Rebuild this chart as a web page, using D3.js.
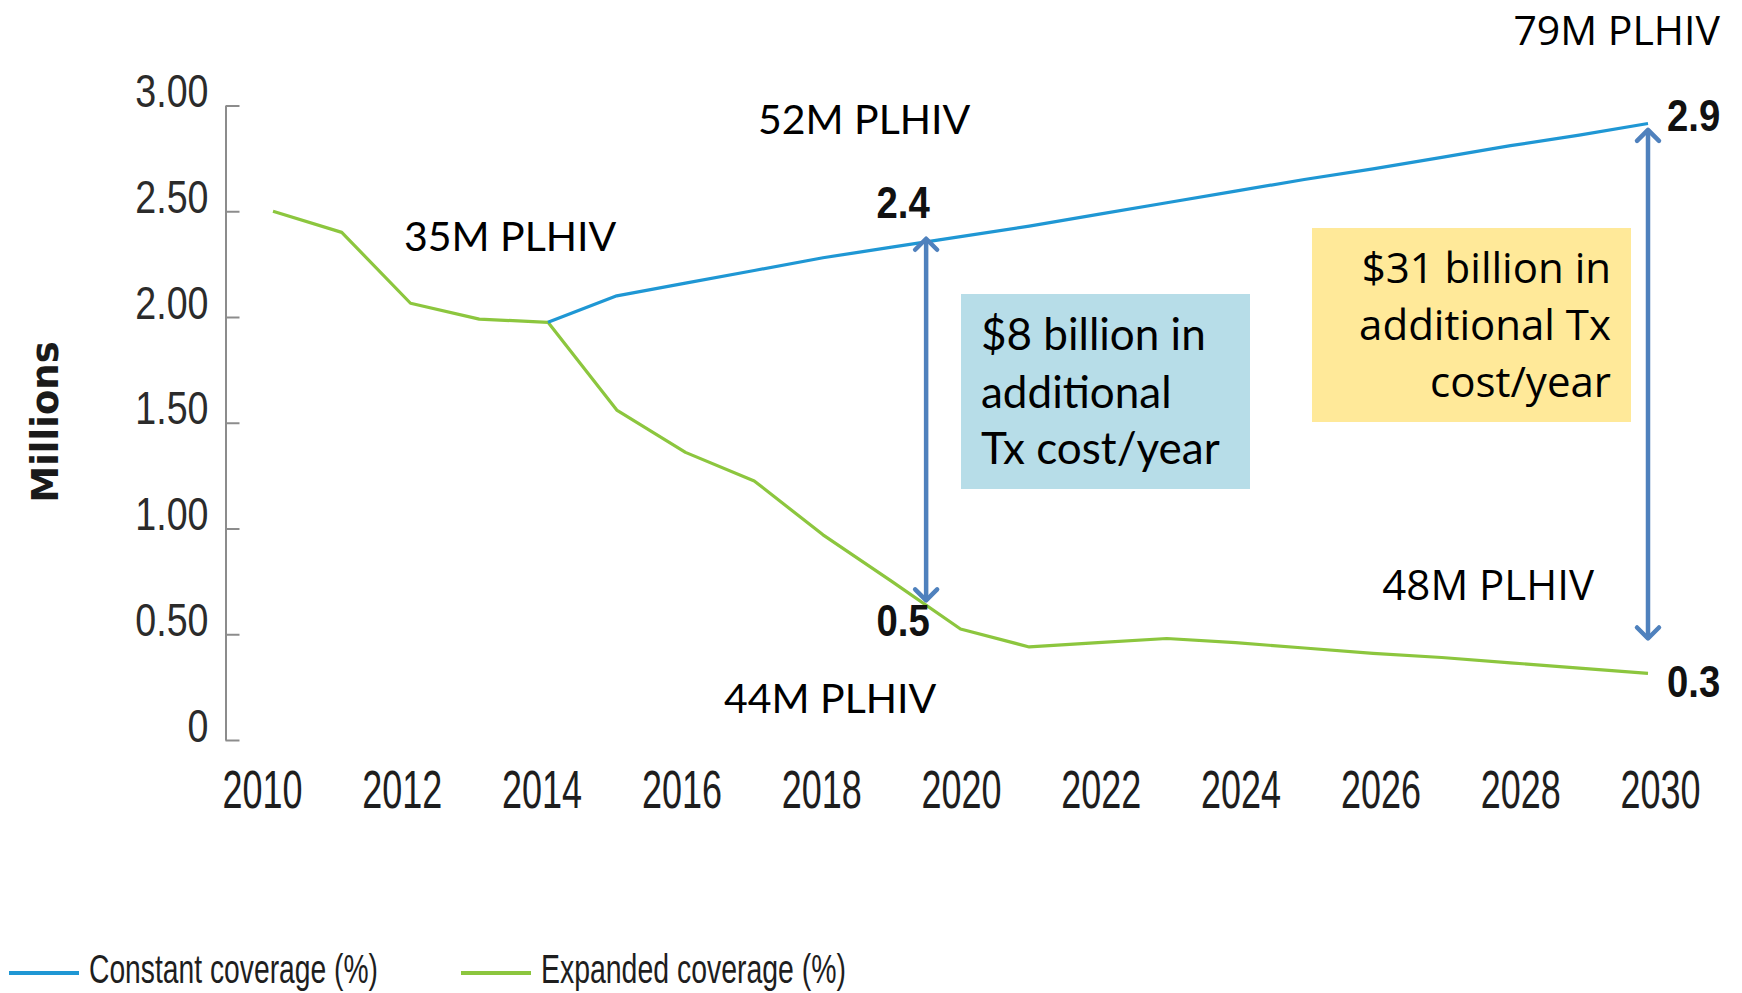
<!DOCTYPE html>
<html>
<head>
<meta charset="utf-8">
<script src="https://cdn.jsdelivr.net/npm/d3@7"></script>
<style>
  body { margin: 0; background: #fff; }
  svg { display: block; }
</style>
</head>
<body>
<div id="chart"></div>
<script>
// ---- data ----
const expandedYears = [2010, 2011, 2012, 2013, 2014, 2015, 2016, 2017, 2018, 2019, 2020,
                       2021, 2022, 2023, 2024, 2025, 2026, 2027, 2028, 2029, 2030];
const expandedValues = [2.50, 2.40, 2.065, 1.99, 1.975, 1.56, 1.36, 1.225, 0.97, 0.75, 0.525,
                        0.44, 0.46, 0.48, 0.46, 0.435, 0.41, 0.39, 0.365, 0.34, 0.315];

const constantYears = [2014, 2015, 2016, 2017, 2018, 2019, 2020, 2021, 2022,
                       2023, 2024, 2025, 2026, 2027, 2028, 2029, 2030];
const constantValues = [1.975, 2.10, 2.16, 2.22, 2.28, 2.33, 2.38, 2.43, 2.485,
                        2.54, 2.595, 2.65, 2.70, 2.755, 2.81, 2.86, 2.915];

const yTicks = [0, 0.5, 1, 1.5, 2, 2.5, 3];
const yTickLabels = ["0", "0.50", "1.00", "1.50", "2.00", "2.50", "3.00"];
const xTicks = [2010, 2012, 2014, 2016, 2018, 2020, 2022, 2024, 2026, 2028, 2030];
const xTickLabels = ["2010", "2012", "2014", "2016", "2018", "2020", "2022", "2024", "2026", "2028", "2030"];

const seriesNames = ["Constant coverage (%)", "Expanded coverage (%)"];

// gap arrows: year, top value, bottom value
const gapYears = [2019.5, 2030];
const gapTop = [2.37, 2.885];
const gapBottom = [0.66, 0.48];

const valueLabels = ["2.4", "0.5", "2.9", "0.3"];

// ---- layout ----
const width = 1742, height = 993;
const blue = "#1f97d4", green = "#8cc63e", arrowColor = "#4f81bd";
const narrow = "'Liberation Sans Narrow', 'Arial Narrow', sans-serif";

const svg = d3.select("#chart").append("svg")
    .attr("width", width)
    .attr("height", height);

const x = d3.scaleLinear().domain([2010, 2030]).range([273, 1648]);
const xLab = d3.scaleLinear().domain([2010, 2030]).range([262, 1660]);
const y = d3.scaleLinear().domain([0, 3]).range([740, 105.5]);

// squeeze text horizontally (condensed look)
function squeeze(sel, k) {
    sel.attr("lengthAdjust", "spacingAndGlyphs")
       .attr("textLength", function() { return this.getComputedTextLength() * k; });
}

// y axis (ticks pointing into the plot)
const yAxis = svg.append("g")
    .attr("transform", "translate(225.5,0)")
    .call(d3.axisLeft(y)
        .tickValues(yTicks)
        .tickFormat((d, i) => yTickLabels[i])
        .tickSizeInner(-14)
        .tickSizeOuter(0)
        .tickPadding(17));
yAxis.select(".domain").attr("stroke", "#8c8c8c").attr("stroke-width", 2);
yAxis.selectAll(".tick line").attr("stroke", "#8c8c8c").attr("stroke-width", 2);
yAxis.selectAll(".tick text")
    .attr("y", -14)
    .attr("fill", "#2b2b2b")
    .style("font-family", narrow)
    .style("font-size", "47px")
    .call(squeeze, 0.8);

// x axis labels only
const xAxis = svg.append("g")
    .attr("transform", "translate(0,770)")
    .call(d3.axisBottom(xLab)
        .tickValues(xTicks)
        .tickFormat((d, i) => xTickLabels[i])
        .tickSize(0)
        .tickPadding(0));
xAxis.select(".domain").remove();
xAxis.selectAll(".tick text")
    .attr("fill", "#1e1e1e")
    .style("font-family", narrow)
    .style("font-size", "54px")
    .attr("lengthAdjust", "spacingAndGlyphs")
    .attr("textLength", 80);

// axis title
svg.append("text")
    .attr("transform", "translate(58,422) rotate(-90)")
    .attr("text-anchor", "middle")
    .style("font-family", "'DejaVu Sans', sans-serif")
    .style("font-weight", "bold")
    .style("font-size", "37px")
    .attr("fill", "#1a1a1a")
    .text("Millions");

// lines
const line = d3.line().x(d => x(d[0])).y(d => y(d[1]));

svg.append("path")
    .datum(expandedYears.map((yr, i) => [yr, expandedValues[i]]))
    .attr("fill", "none")
    .attr("stroke", green)
    .attr("stroke-width", 3.2)
    .attr("stroke-linejoin", "round")
    .attr("d", line);

svg.append("path")
    .datum(constantYears.map((yr, i) => [yr, constantValues[i]]))
    .attr("fill", "none")
    .attr("stroke", blue)
    .attr("stroke-width", 3.2)
    .attr("stroke-linejoin", "round")
    .attr("d", line);

// annotation boxes
svg.append("rect")
    .attr("x", 961).attr("y", 294)
    .attr("width", 289).attr("height", 195)
    .attr("fill", "#b7dde8");

svg.append("rect")
    .attr("x", 1312).attr("y", 228)
    .attr("width", 319).attr("height", 194)
    .attr("fill", "#ffe999");

// gap arrows
const defs = svg.append("defs");
defs.append("marker")
    .attr("id", "chev")
    .attr("markerUnits", "userSpaceOnUse")
    .attr("viewBox", "-16 -16 32 32")
    .attr("markerWidth", 32)
    .attr("markerHeight", 32)
    .attr("refX", 0).attr("refY", 0)
    .attr("orient", "auto-start-reverse")
  .append("path")
    .attr("d", "M-11,-11L0,0L-11,11")
    .attr("fill", "none")
    .attr("stroke", arrowColor)
    .attr("stroke-width", 4.5)
    .attr("stroke-linecap", "round")
    .attr("stroke-linejoin", "round");

svg.selectAll(".gap")
    .data(gapYears)
    .enter().append("line")
    .attr("class", "gap")
    .attr("x1", d => x(d)).attr("x2", d => x(d))
    .attr("y1", (d, i) => y(gapTop[i]))
    .attr("y2", (d, i) => y(gapBottom[i]))
    .attr("stroke", arrowColor)
    .attr("stroke-width", 4.5)
    .attr("marker-start", "url(#chev)")
    .attr("marker-end", "url(#chev)");

// value labels
const valueStyle = t => t
    .style("font-family", narrow)
    .style("font-weight", "bold")
    .style("font-size", "44px")
    .attr("fill", "#111");

svg.append("text").call(valueStyle)
    .attr("x", x(2019.5) - 23).attr("y", y(2.4) - 14)
    .attr("text-anchor", "middle").text(valueLabels[0]).call(squeeze, 0.87);
svg.append("text").call(valueStyle)
    .attr("x", x(2019.5) - 23).attr("y", y(0.5) + 2)
    .attr("text-anchor", "middle").text(valueLabels[1]).call(squeeze, 0.87);
svg.append("text").call(valueStyle)
    .attr("x", x(2030) + 19).attr("y", y(2.9) + 4)
    .text(valueLabels[2]).call(squeeze, 0.87);
svg.append("text").call(valueStyle)
    .attr("x", x(2030) + 19).attr("y", y(0.3) + 20)
    .text(valueLabels[3]).call(squeeze, 0.87);

// PLHIV notes and box texts
const calibri = "Lato, 'Noto Sans', sans-serif";
const gothic = "'Open Sans', 'Noto Sans', sans-serif";

function note(txt, px, py, font, size, anchor) {
    svg.append("text")
        .attr("x", px).attr("y", py)
        .attr("text-anchor", anchor || "start")
        .style("font-family", font)
        .style("font-size", size + "px")
        .attr("fill", "#000")
        .text(txt);
}

note("35M PLHIV", 404, 251, calibri, 41);
note("52M PLHIV", 758, 134, calibri, 41);
note("44M PLHIV", 724, 713, calibri, 41);
note("48M PLHIV", 1594, 600, gothic, 42, "end");
note("79M PLHIV", 1720, 45, gothic, 41, "end");

note("$8 billion in", 981, 350, calibri, 44);
note("additional", 981, 408, calibri, 44);
note("Tx cost/year", 981, 464, calibri, 44);

note("$31 billion in", 1611, 283, gothic, 42, "end");
note("additional Tx", 1611, 340, gothic, 42, "end");
note("cost/year", 1611, 397, gothic, 42, "end");

// legend
const legend = svg.append("g");
const legendX = [9, 461];
const legendColors = [blue, green];
const legendLen = [289, 305];
seriesNames.forEach((name, i) => {
    legend.append("line")
        .attr("x1", legendX[i]).attr("x2", legendX[i] + 70)
        .attr("y1", 973).attr("y2", 973)
        .attr("stroke", legendColors[i])
        .attr("stroke-width", 4);
    legend.append("text")
        .attr("x", legendX[i] + 80).attr("y", 983)
        .style("font-family", narrow)
        .style("font-size", "40px")
        .attr("lengthAdjust", "spacingAndGlyphs")
        .attr("textLength", legendLen[i])
        .attr("fill", "#1e1e1e")
        .text(name);
});
</script>
</body>
</html>
